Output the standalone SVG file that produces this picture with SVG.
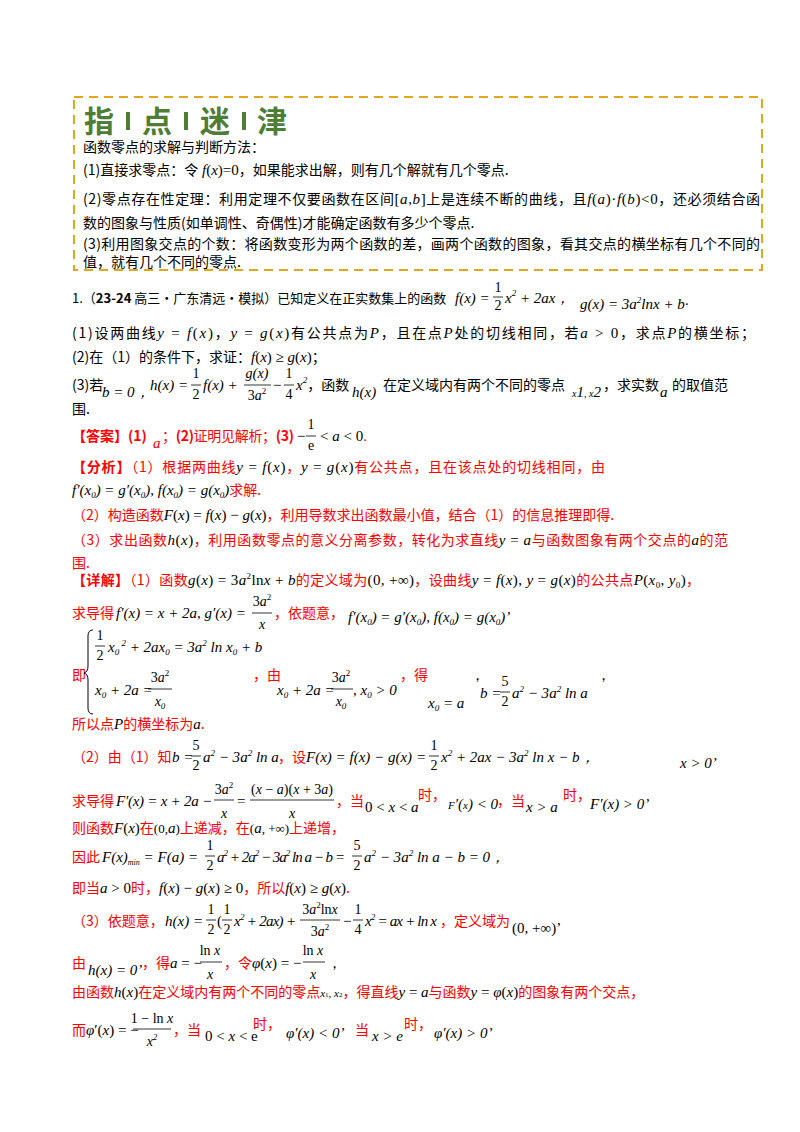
<svg xmlns="http://www.w3.org/2000/svg" width="800" height="1132" viewBox="0 0 800 1132">
<style>
text{font-family:"Noto Sans CJK SC",sans-serif;font-size:14px;fill:#000}
.r{fill:#ff0000}
.m{font-family:"Liberation Serif",serif;font-style:italic;font-size:15px}
.n{font-family:"Liberation Serif",serif;font-size:15px}
.fm{font-family:"Liberation Serif",serif;font-style:italic;font-size:14px;text-anchor:middle}
.fn{font-family:"Liberation Serif",serif;font-size:14px;text-anchor:middle}
.b{font-weight:bold}
.s{font-size:9px}
line.fl{stroke:#000;stroke-width:0.8}
.title{font-size:30px;font-weight:bold;fill:#4f7d34}
</style>
<rect width="800" height="1132" fill="#fff"/>
<g id="tipbox">
<rect x="74" y="97" width="688" height="173" fill="none" stroke="#e0a820" stroke-width="2" stroke-dasharray="9,6"/>
<text x="84" y="132" class="title">指</text>
<rect x="126" y="112" width="4" height="18" fill="#4f7d34"/>
<text x="142" y="132" class="title">点</text>
<rect x="184" y="112" width="4" height="18" fill="#4f7d34"/>
<text x="200" y="132" class="title">迷</text>
<rect x="242" y="112" width="4" height="18" fill="#4f7d34"/>
<text x="257" y="132" class="title">津</text>
<text x="83" y="152">函数零点的求解与判断方法：</text>
<text x="83" y="175">(1)直接求零点：令<tspan class="m"> f</tspan><tspan class="n">(</tspan><tspan class="m">x</tspan><tspan class="n">)=0</tspan>，如果能求出解，则有几个解就有几个零点.</text>
<text x="83" y="204" textLength="677">(2)零点存在性定理：利用定理不仅要函数在区间<tspan class="n">[</tspan><tspan class="m">a,b</tspan><tspan class="n">]</tspan>上是连续不断的曲线，且<tspan class="m">f</tspan><tspan class="n">(</tspan><tspan class="m">a</tspan><tspan class="n">)·</tspan><tspan class="m">f</tspan><tspan class="n">(</tspan><tspan class="m">b</tspan><tspan class="n">)&lt;0</tspan>，还必须结合函</text>
<text x="83" y="228">数的图象与性质(如单调性、奇偶性)才能确定函数有多少个零点.</text>
<text x="83" y="249" textLength="677">(3)利用图象交点的个数：将函数变形为两个函数的差，画两个函数的图象，看其交点的横坐标有几个不同的</text>
<text x="83" y="267">值，就有几个不同的零点.</text>
</g>
<g id="problem">
<text x="72" y="303" style="font-size:13px">1.（<tspan class="b">23-24</tspan> 高三·广东清远·模拟）已知定义在正实数集上的函数</text>
<text x="455" y="303" class="m">f<tspan class="n">(</tspan>x<tspan class="n">) =</tspan></text>
<text x="498" y="292" class="fn">1</text><line class="fl" x1="493" y1="297" x2="503" y2="297"/><text x="498" y="310" class="fn">2</text>
<text x="505" y="303" class="m">x<tspan class="s" dy="-7">2</tspan><tspan class="n" dy="7"> + 2</tspan>ax<tspan class="n">，</tspan></text>
<text x="580" y="309" class="m">g<tspan class="n">(</tspan>x<tspan class="n">) = 3</tspan>a<tspan class="s n" dy="-6">2</tspan><tspan class="n" dy="6">ln</tspan>x<tspan class="n"> + </tspan>b<tspan class="n">·</tspan></text>
<text x="72" y="338" textLength="683">(1)设两曲线<tspan class="m">y</tspan><tspan class="n"> = </tspan><tspan class="m">f</tspan><tspan class="n">(</tspan><tspan class="m">x</tspan><tspan class="n">)</tspan>，<tspan class="m">y</tspan><tspan class="n"> = </tspan><tspan class="m">g</tspan><tspan class="n">(</tspan><tspan class="m">x</tspan><tspan class="n">)</tspan>有公共点为<tspan class="m">P</tspan>，且在点<tspan class="m">P</tspan>处的切线相同，若<tspan class="m">a</tspan><tspan class="n"> &gt; 0</tspan>，求点<tspan class="m">P</tspan>的横坐标；</text>
<text x="72" y="362">(2)在（1）的条件下，求证：<tspan class="m">f</tspan><tspan class="n">(</tspan><tspan class="m">x</tspan><tspan class="n">) ≥ </tspan><tspan class="m">g</tspan><tspan class="n">(</tspan><tspan class="m">x</tspan><tspan class="n">)</tspan>；</text>
<text x="72" y="390">(3)若</text>
<text x="102" y="397" class="m">b<tspan class="n"> = 0</tspan><tspan class="n">，</tspan></text>
<text x="150" y="390" class="m">h<tspan class="n">(</tspan>x<tspan class="n">) =</tspan></text>
<text x="196" y="378" class="fn">1</text><line class="fl" x1="191" y1="385" x2="201" y2="385"/><text x="196" y="399" class="fn">2</text>
<text x="203" y="390" class="m">f<tspan class="n">(</tspan>x<tspan class="n">) +</tspan></text>
<text x="257" y="378" class="fm">g<tspan class="n">(</tspan>x<tspan class="n">)</tspan></text><line class="fl" x1="244" y1="385" x2="271" y2="385"/><text x="257" y="400" class="fn">3<tspan class="fm">a</tspan><tspan class="s" dy="-6">2</tspan></text>
<text x="273" y="390" class="n">−</text>
<text x="289" y="378" class="fn">1</text><line class="fl" x1="284" y1="385" x2="294" y2="385"/><text x="289" y="399" class="fn">4</text>
<text x="296" y="390" class="m">x<tspan class="s n" dy="-7">2</tspan><tspan dy="7" style="font-family:'Noto Sans CJK SC';font-style:normal;font-size:14px">，函数</tspan></text>
<text x="352" y="397" class="m">h<tspan class="n">(</tspan>x<tspan class="n">)</tspan></text>
<text x="383" y="390">在定义域内有两个不同的零点</text>
<text x="572" y="397" class="m" style="font-size:10px">x<tspan class="n" font-size="7">1</tspan>, x<tspan class="n" font-size="7">2</tspan></text>
<text x="603" y="390">，求实数</text>
<text x="660" y="397" class="m">a</text>
<text x="672" y="390">的取值范</text>
<text x="72" y="414">围.</text>
</g>
<g id="answer">
<text x="72" y="441" class="r b">【答案】(1)</text>
<text x="153" y="448" class="m r">a</text>
<text x="162" y="441" class="r" textLength="132">；<tspan class="b">(2)</tspan>证明见解析；<tspan class="b">(3)</tspan></text>
<text x="297" y="441" class="n">−</text>
<text x="311" y="429" class="fn">1</text><line class="fl" x1="306" y1="436" x2="316" y2="436"/><text x="311" y="450" class="fn">e</text>
<text x="320" y="441" class="n">&lt; <tspan class="m">a</tspan> &lt; 0<tspan class="r">.</tspan></text>
<text x="72" y="472" class="r" textLength="533"><tspan class="b">【分析】</tspan>（1）根据两曲线<tspan class="m" style="fill:#000">y</tspan><tspan class="n" style="fill:#000"> = </tspan><tspan class="m" style="fill:#000">f</tspan><tspan class="n" style="fill:#000">(</tspan><tspan class="m" style="fill:#000">x</tspan><tspan class="n" style="fill:#000">)</tspan>，<tspan class="m" style="fill:#000">y</tspan><tspan class="n" style="fill:#000"> = </tspan><tspan class="m" style="fill:#000">g</tspan><tspan class="n" style="fill:#000">(</tspan><tspan class="m" style="fill:#000">x</tspan><tspan class="n" style="fill:#000">)</tspan>有公共点，且在该点处的切线相同，由</text>
<text x="72" y="495" class="m">f<tspan class="n">′(</tspan>x<tspan class="s n" dy="3">0</tspan><tspan class="n" dy="-3">) = </tspan>g<tspan class="n">′(</tspan>x<tspan class="s n" dy="3">0</tspan><tspan class="n" dy="-3">), </tspan>f<tspan class="n">(</tspan>x<tspan class="s n" dy="3">0</tspan><tspan class="n" dy="-3">) = </tspan>g<tspan class="n">(</tspan>x<tspan class="s n" dy="3">0</tspan><tspan class="n" dy="-3">)</tspan><tspan class="r" style="font-family:'Noto Sans CJK SC';font-style:normal;font-size:14px">求解.</tspan></text>
<text x="72" y="520" class="r">（2）构造函数<tspan class="m" style="fill:#000">F</tspan><tspan class="n" style="fill:#000">(</tspan><tspan class="m" style="fill:#000">x</tspan><tspan class="n" style="fill:#000">) = </tspan><tspan class="m" style="fill:#000">f</tspan><tspan class="n" style="fill:#000">(</tspan><tspan class="m" style="fill:#000">x</tspan><tspan class="n" style="fill:#000">) − </tspan><tspan class="m" style="fill:#000">g</tspan><tspan class="n" style="fill:#000">(</tspan><tspan class="m" style="fill:#000">x</tspan><tspan class="n" style="fill:#000">)</tspan>，利用导数求出函数最小值，结合（1）的信息推理即得.</text>
<text x="72" y="545" class="r" textLength="656">（3）求出函数<tspan class="m" style="fill:#000">h</tspan><tspan class="n" style="fill:#000">(</tspan><tspan class="m" style="fill:#000">x</tspan><tspan class="n" style="fill:#000">)</tspan>，利用函数零点的意义分离参数，转化为求直线<tspan class="m" style="fill:#000">y</tspan><tspan class="n" style="fill:#000"> = </tspan><tspan class="m" style="fill:#000">a</tspan>与函数图象有两个交点的<tspan class="m" style="fill:#000">a</tspan>的范</text>
<text x="72" y="568" class="r">围.</text>
</g>
<g id="detail1">
<text x="72" y="585" class="r" textLength="628"><tspan class="b">【详解】</tspan>（1）函数<tspan class="m" style="fill:#000">g</tspan><tspan class="n" style="fill:#000">(</tspan><tspan class="m" style="fill:#000">x</tspan><tspan class="n" style="fill:#000">) = 3</tspan><tspan class="m" style="fill:#000">a</tspan><tspan class="s n" dy="-6" style="fill:#000">2</tspan><tspan class="n" dy="6" style="fill:#000">ln</tspan><tspan class="m" style="fill:#000">x</tspan><tspan class="n" style="fill:#000"> + </tspan><tspan class="m" style="fill:#000">b</tspan>的定义域为<tspan class="n" style="fill:#000">(0, +∞)</tspan>，设曲线<tspan class="m" style="fill:#000">y</tspan><tspan class="n" style="fill:#000"> = </tspan><tspan class="m" style="fill:#000">f</tspan><tspan class="n" style="fill:#000">(</tspan><tspan class="m" style="fill:#000">x</tspan><tspan class="n" style="fill:#000">), </tspan><tspan class="m" style="fill:#000">y</tspan><tspan class="n" style="fill:#000"> = </tspan><tspan class="m" style="fill:#000">g</tspan><tspan class="n" style="fill:#000">(</tspan><tspan class="m" style="fill:#000">x</tspan><tspan class="n" style="fill:#000">)</tspan>的公共点<tspan class="m" style="fill:#000">P</tspan><tspan class="n" style="fill:#000">(</tspan><tspan class="m" style="fill:#000">x</tspan><tspan class="s n" dy="3" style="fill:#000">0</tspan><tspan class="n" dy="-3" style="fill:#000">, </tspan><tspan class="m" style="fill:#000">y</tspan><tspan class="s n" dy="3" style="fill:#000">0</tspan><tspan class="n" dy="-3" style="fill:#000">)</tspan>，</text>
<text x="72" y="618" class="r">求导得</text>
<text x="116" y="618" class="m">f<tspan class="n">′(</tspan>x<tspan class="n">) = </tspan>x<tspan class="n"> + 2</tspan>a<tspan class="n">, </tspan>g<tspan class="n">′(</tspan>x<tspan class="n">) =</tspan></text>
<text x="262" y="606" class="fn">3<tspan class="fm">a</tspan><tspan class="s" dy="-6">2</tspan></text><line class="fl" x1="252" y1="613" x2="272" y2="613"/><text x="262" y="629" class="fm">x</text>
<text x="274" y="618" class="r">，依题意，</text>
<text x="348" y="622" class="m">f<tspan class="n">′(</tspan>x<tspan class="s n" dy="3">0</tspan><tspan class="n" dy="-3">) = </tspan>g<tspan class="n">′(</tspan>x<tspan class="s n" dy="3">0</tspan><tspan class="n" dy="-3">), </tspan>f<tspan class="n">(</tspan>x<tspan class="s n" dy="3">0</tspan><tspan class="n" dy="-3">) = </tspan>g<tspan class="n">(</tspan>x<tspan class="s n" dy="3">0</tspan><tspan class="n" dy="-3">)</tspan><tspan class="n">’</tspan></text>
<text x="72" y="680" class="r">即</text>
<path d="M93 630 Q88 630 88 636 L88 666 Q88 672 84 673 Q88 674 88 680 L88 708 Q88 714 93 714" fill="none" stroke="#000" stroke-width="1"/>
<text x="100" y="640" class="fn">1</text><line class="fl" x1="95" y1="646" x2="105" y2="646"/><text x="100" y="660" class="fn">2</text>
<text x="108" y="652" class="m">x<tspan class="s n" dy="3">0</tspan><tspan class="s n" dy="-9"> 2</tspan><tspan class="n" dy="6"> + 2</tspan>ax<tspan class="s n" dy="3">0</tspan><tspan class="n" dy="-3"> = 3</tspan>a<tspan class="s n" dy="-6">2</tspan><tspan class="n" dy="6"> ln </tspan>x<tspan class="s n" dy="3">0</tspan><tspan class="n" dy="-3"> + </tspan>b</text>
<text x="95" y="695" class="m">x<tspan class="s n" dy="3">0</tspan><tspan class="n" dy="-3"> + 2</tspan>a<tspan class="n"> =</tspan></text>
<text x="160" y="682" class="fn">3<tspan class="fm">a</tspan><tspan class="s" dy="-6">2</tspan></text><line class="fl" x1="148" y1="689" x2="172" y2="689"/><text x="160" y="706" class="fm">x<tspan class="s fn" dy="3">0</tspan></text>
<text x="253" y="680" class="r">，由</text>
<text x="277" y="695" class="m">x<tspan class="s n" dy="3">0</tspan><tspan class="n" dy="-3"> + 2</tspan>a<tspan class="n"> =</tspan></text>
<text x="341" y="682" class="fn">3<tspan class="fm">a</tspan><tspan class="s" dy="-6">2</tspan></text><line class="fl" x1="331" y1="689" x2="353" y2="689"/><text x="341" y="706" class="fm">x<tspan class="s fn" dy="3">0</tspan></text>
<text x="353" y="695" class="m"><tspan class="n">, </tspan>x<tspan class="s n" dy="3">0</tspan><tspan class="n" dy="-3"> &gt; 0</tspan></text>
<text x="400" y="680" class="r">，得</text>
<text x="428" y="708" class="m">x<tspan class="s n" dy="3">0</tspan><tspan class="n" dy="-3"> = </tspan>a</text>
<text x="470" y="680" class="n">，</text>
<text x="480" y="698" class="m">b<tspan class="n"> =</tspan></text>
<text x="505" y="686" class="fn">5</text><line class="fl" x1="500" y1="692" x2="510" y2="692"/><text x="505" y="706" class="fn">2</text>
<text x="512" y="698" class="m">a<tspan class="s n" dy="-6">2</tspan><tspan class="n" dy="6"> − 3</tspan>a<tspan class="s n" dy="-6">2</tspan><tspan class="n" dy="6"> ln </tspan>a</text>
<text x="596" y="680" class="n">，</text>
<text x="72" y="729" class="r">所以点<tspan class="m" style="fill:#000">P</tspan>的横坐标为<tspan class="m" style="fill:#000">a</tspan>.</text>
</g>
<g id="detail2">
<text x="72" y="762" class="r">（2）由（1）知</text>
<text x="172" y="762" class="m">b<tspan class="n"> =</tspan></text>
<text x="196" y="750" class="fn">5</text><line class="fl" x1="191" y1="756" x2="201" y2="756"/><text x="196" y="770" class="fn">2</text>
<text x="203" y="762" class="m">a<tspan class="s n" dy="-6">2</tspan><tspan class="n" dy="6"> − 3</tspan>a<tspan class="s n" dy="-6">2</tspan><tspan class="n" dy="6"> ln </tspan>a</text>
<text x="278" y="762" class="r">，设</text>
<text x="306" y="762" class="m" textLength="120">F<tspan class="n">(</tspan>x<tspan class="n">) = </tspan>f<tspan class="n">(</tspan>x<tspan class="n">) − </tspan>g<tspan class="n">(</tspan>x<tspan class="n">) =</tspan></text>
<text x="434" y="750" class="fn">1</text><line class="fl" x1="429" y1="756" x2="439" y2="756"/><text x="434" y="770" class="fn">2</text>
<text x="441" y="762" class="m">x<tspan class="s n" dy="-6">2</tspan><tspan class="n" dy="6"> + 2</tspan>ax<tspan class="n"> − 3</tspan>a<tspan class="s n" dy="-6">2</tspan><tspan class="n" dy="6"> ln </tspan>x<tspan class="n"> − </tspan>b<tspan class="n">，</tspan></text>
<text x="680" y="768" class="m">x<tspan class="n"> &gt; 0’</tspan></text>
<text x="72" y="806" class="r">求导得</text>
<text x="116" y="806" class="m" textLength="96">F<tspan class="n">′(</tspan>x<tspan class="n">) = </tspan>x<tspan class="n"> + 2</tspan>a<tspan class="n"> −</tspan></text>
<text x="224" y="794" class="fn">3<tspan class="fm">a</tspan><tspan class="s" dy="-6">2</tspan></text><line class="fl" x1="214" y1="800" x2="234" y2="800"/><text x="224" y="818" class="fm">x</text>
<text x="237" y="806" class="n">=</text>
<text x="292" y="794" class="fn">(<tspan class="fm">x</tspan> − <tspan class="fm">a</tspan>)(<tspan class="fm">x</tspan> + 3<tspan class="fm">a</tspan>)</text><line class="fl" x1="250" y1="800" x2="334" y2="800"/><text x="292" y="818" class="fm">x</text>
<text x="336" y="806" class="r">，当</text>
<text x="365" y="812" class="n">0 &lt; <tspan class="m">x</tspan> &lt; <tspan class="m">a</tspan></text>
<text x="418" y="800" class="r">时，</text>
<text x="448" y="809" class="m" style="font-size:11px">F<tspan class="n">′(</tspan>x<tspan class="n">) &lt; 0</tspan></text>
<text x="497" y="806" class="r">，当</text>
<text x="526" y="812" class="m">x<tspan class="n"> &gt; </tspan>a</text>
<text x="563" y="800" class="r">时，</text>
<text x="590" y="809" class="m">F<tspan class="n">′(</tspan>x<tspan class="n">) &gt; 0’</tspan></text>
<text x="72" y="833" class="r">则函数<tspan class="m" style="fill:#000">F</tspan><tspan class="n" style="fill:#000">(</tspan><tspan class="m" style="fill:#000">x</tspan><tspan class="n" style="fill:#000">)</tspan>在<tspan class="n" style="fill:#000;font-size:13px">(0,<tspan class="m">a</tspan>)</tspan>上递减，在<tspan class="n" style="fill:#000;font-size:13px">(<tspan class="m">a</tspan>, +∞)</tspan>上递增，</text>
<text x="72" y="862" class="r">因此</text>
<text x="102" y="862" class="m">F<tspan class="n">(</tspan>x<tspan class="n">)</tspan><tspan class="n" style="font-size:8px" dy="3">min</tspan><tspan class="n" dy="-3"> = </tspan>F<tspan class="n">(</tspan>a<tspan class="n">) =</tspan></text>
<text x="210" y="850" class="fn">1</text><line class="fl" x1="205" y1="856" x2="215" y2="856"/><text x="210" y="870" class="fn">2</text>
<text x="217" y="862" class="m" textLength="128">a<tspan class="s n" dy="-6">2</tspan><tspan class="n" dy="6"> + 2</tspan>a<tspan class="s n" dy="-6">2</tspan><tspan class="n" dy="6"> − 3</tspan>a<tspan class="s n" dy="-6">2</tspan><tspan class="n" dy="6"> ln </tspan>a<tspan class="n"> − </tspan>b<tspan class="n"> =</tspan></text>
<text x="357" y="850" class="fn">5</text><line class="fl" x1="352" y1="856" x2="362" y2="856"/><text x="357" y="870" class="fn">2</text>
<text x="364" y="862" class="m">a<tspan class="s n" dy="-6">2</tspan><tspan class="n" dy="6"> − 3</tspan>a<tspan class="s n" dy="-6">2</tspan><tspan class="n" dy="6"> ln </tspan>a<tspan class="n"> − </tspan>b<tspan class="n"> = 0，</tspan></text>
<text x="72" y="893" class="r">即当<tspan class="m" style="fill:#000">a</tspan><tspan class="n" style="fill:#000"> &gt; 0</tspan>时，<tspan class="m" style="fill:#000">f</tspan><tspan class="n" style="fill:#000">(</tspan><tspan class="m" style="fill:#000">x</tspan><tspan class="n" style="fill:#000">) − </tspan><tspan class="m" style="fill:#000">g</tspan><tspan class="n" style="fill:#000">(</tspan><tspan class="m" style="fill:#000">x</tspan><tspan class="n" style="fill:#000">) ≥ 0</tspan>，所以<tspan class="m" style="fill:#000">f</tspan><tspan class="n" style="fill:#000">(</tspan><tspan class="m" style="fill:#000">x</tspan><tspan class="n" style="fill:#000">) ≥ </tspan><tspan class="m" style="fill:#000">g</tspan><tspan class="n" style="fill:#000">(</tspan><tspan class="m" style="fill:#000">x</tspan><tspan class="n" style="fill:#000">)</tspan>.</text>
</g>
<g id="detail3">
<text x="72" y="926" class="r">（3）依题意，</text>
<text x="165" y="926" class="m">h<tspan class="n">(</tspan>x<tspan class="n">) =</tspan></text>
<text x="211" y="914" class="fn">1</text><line class="fl" x1="206" y1="920" x2="216" y2="920"/><text x="211" y="934" class="fn">2</text>
<text x="217" y="926" class="n">(</text>
<text x="227" y="914" class="fn">1</text><line class="fl" x1="222" y1="920" x2="232" y2="920"/><text x="227" y="934" class="fn">2</text>
<text x="234" y="926" class="m" textLength="62">x<tspan class="s n" dy="-6">2</tspan><tspan class="n" dy="6"> + 2</tspan>ax<tspan class="n">) +</tspan></text>
<text x="320" y="914" class="fn">3<tspan class="fm">a</tspan><tspan class="s" dy="-6">2</tspan><tspan dy="6">ln</tspan><tspan class="fm">x</tspan></text><line class="fl" x1="300" y1="920" x2="340" y2="920"/><text x="320" y="936" class="fn">3<tspan class="fm">a</tspan><tspan class="s" dy="-6">2</tspan></text>
<text x="343" y="926" class="n">−</text>
<text x="358" y="914" class="fn">1</text><line class="fl" x1="353" y1="920" x2="363" y2="920"/><text x="358" y="934" class="fn">4</text>
<text x="365" y="926" class="m" textLength="72">x<tspan class="s n" dy="-6">2</tspan><tspan class="n" dy="6"> = </tspan>ax<tspan class="n"> + ln </tspan>x</text>
<text x="440" y="926" class="r">，定义域为</text>
<text x="512" y="933" class="n">(0, +∞)’</text>
<text x="72" y="968" class="r">由</text>
<text x="88" y="975" class="m">h<tspan class="n">(</tspan>x<tspan class="n">) = 0’</tspan></text>
<text x="142" y="968" class="r">，得<tspan class="m" style="fill:#000">a</tspan><tspan class="n" style="fill:#000"> = −</tspan></text>
<text x="210" y="955" class="fn">ln <tspan class="fm">x</tspan></text><line class="fl" x1="200" y1="962" x2="222" y2="962"/><text x="210" y="979" class="fm">x</text>
<text x="224" y="968" class="r">，令<tspan class="m" style="fill:#000">φ</tspan><tspan class="n" style="fill:#000">(</tspan><tspan class="m" style="fill:#000">x</tspan><tspan class="n" style="fill:#000">) = −</tspan></text>
<text x="313" y="955" class="fn">ln <tspan class="fm">x</tspan></text><line class="fl" x1="303" y1="962" x2="325" y2="962"/><text x="313" y="979" class="fm">x</text>
<text x="327" y="968" class="n">，</text>
<text x="72" y="997" class="r">由函数<tspan class="m" style="fill:#000">h</tspan><tspan class="n" style="fill:#000">(</tspan><tspan class="m" style="fill:#000">x</tspan><tspan class="n" style="fill:#000">)</tspan>在定义域内有两个不同的零点<tspan class="m" style="fill:#000;font-size:11px">x</tspan><tspan class="n" style="fill:#000;font-size:7px">1</tspan><tspan class="m" style="fill:#000;font-size:11px">, x</tspan><tspan class="n" style="fill:#000;font-size:7px">2</tspan>，得直线<tspan class="m" style="fill:#000">y</tspan><tspan class="n" style="fill:#000"> = </tspan><tspan class="m" style="fill:#000">a</tspan>与函数<tspan class="m" style="fill:#000">y</tspan><tspan class="n" style="fill:#000"> = </tspan><tspan class="m" style="fill:#000">φ</tspan><tspan class="n" style="fill:#000">(</tspan><tspan class="m" style="fill:#000">x</tspan><tspan class="n" style="fill:#000">)</tspan>的图象有两个交点，</text>
<text x="72" y="1035" class="r">而<tspan class="m" style="fill:#000">φ</tspan><tspan class="n" style="fill:#000">′(</tspan><tspan class="m" style="fill:#000">x</tspan><tspan class="n" style="fill:#000">) = −</tspan></text>
<text x="152" y="1023" class="fn">1 − ln <tspan class="fm">x</tspan></text><line class="fl" x1="133" y1="1029" x2="171" y2="1029"/><text x="152" y="1046" class="fm">x<tspan class="s fn" dy="-6">2</tspan></text>
<text x="173" y="1035" class="r">，当</text>
<text x="205" y="1041" class="n">0 &lt; <tspan class="m">x</tspan> &lt; e</text>
<text x="253" y="1029" class="r">时，</text>
<text x="286" y="1038" class="m">φ<tspan class="n">′(</tspan>x<tspan class="n">) &lt; 0’</tspan></text>
<text x="355" y="1035" class="r">当</text>
<text x="372" y="1041" class="m">x<tspan class="n"> &gt; e</tspan></text>
<text x="404" y="1029" class="r">时，</text>
<text x="434" y="1038" class="m">φ<tspan class="n">′(</tspan>x<tspan class="n">) &gt; 0’</tspan></text>
</g>
</svg>
